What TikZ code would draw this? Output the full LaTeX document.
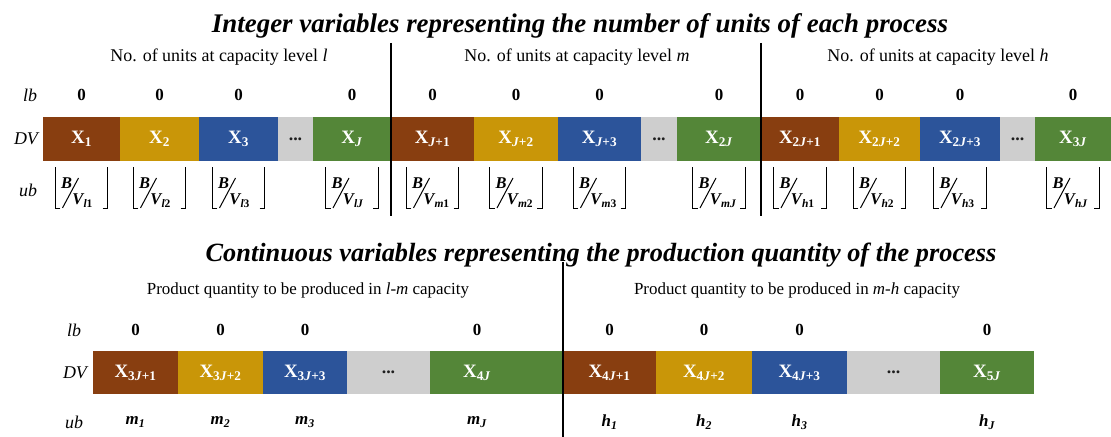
\documentclass[tikz,border=0pt]{standalone}
\usepackage{fontspec}
\setmainfont{Liberation Serif}
\usepackage{graphicx}
\definecolor{cbrown}{RGB}{136,62,16}
\definecolor{cgold}{RGB}{201,150,8}
\definecolor{cblue}{RGB}{44,84,154}
\definecolor{cgray}{RGB}{206,206,206}
\definecolor{cgreen}{RGB}{84,134,56}
\definecolor{cdots}{RGB}{30,30,30}
\newcommand\cellbox[7]{%
  \pgfmathsetmacro\cw{#3-#2}\pgfmathsetmacro\ch{#5-#4}%
  \pgfmathsetmacro\cx{(#2+#3)/2}\pgfmathsetmacro\cy{(#4+#5)/2}%
  \node[cellst,fill=#6,minimum width=\cw bp,minimum height=\ch bp] (#1) at (\cx,\cy) {#7};}
\newcommand\xlab[1]{\textbf{X}\textsubscript{\textbf{#1}}}
\newcommand\bvfrac[1]{\makebox[38bp][l]{\kern-1.5bp\raisebox{-1bp}{\textbf{\textit{B}}}\kern0.5bp\raisebox{-17bp}{\textbf{\textit{V}}\kern-1bp\textsubscript{\textbf{#1}}}}}
\newcommand\floorbr[1]{%
  \draw[brk] ([xshift=5bp]#1.south west) -- (#1.south west) -- (#1.north west);
  \draw[brk] ([xshift=-5bp]#1.south east) -- (#1.south east) -- (#1.north east);
  \draw[slsh] ([xshift=-19bp,yshift=-20bp]#1.center) -- ([xshift=-3bp,yshift=10bp]#1.center);}
\begin{document}
\begin{tikzpicture}[x=1bp,y=-1bp,
  cellst/.style={draw=none,inner sep=0pt,outer sep=0pt,text=white,font=\fontsize{19}{20}\selectfont},
  dotst/.style={text=cdots,font=\fontsize{18}{18}\selectfont\bfseries},
  zst/.style={font=\fontsize{17}{18}\selectfont\bfseries},
  rowlab/.style={font=\fontsize{18}{20}\selectfont\itshape},
  subt/.style={font=\fontsize{18}{20}\selectfont},
  subb/.style={font=\fontsize{17}{20}\selectfont},
  ttl/.style={font=\fontsize{27}{30}\selectfont\bfseries\itshape},
  ttlb/.style={font=\fontsize{26.4}{30}\selectfont\bfseries\itshape},
  ubst/.style={inner sep=0pt,minimum width=52bp,minimum height=41bp,text height=20bp,text depth=21bp,font=\fontsize{16.5}{18}\selectfont},
  ubb/.style={font=\fontsize{17}{18}\selectfont\bfseries\itshape},
  brk/.style={line width=0.8bp},
  slsh/.style={line width=1bp},
  sep/.style={line width=2.6bp}]
\useasboundingbox (0,0) rectangle (1111,437);
% ---------------- top section
\node[ttl] (title1) at (580,26) {Integer variables representing the number of units of each process};
\node[subt] (sub1) at (219,57) {No. of units at capacity level \textit{l}};
\node[subt] (sub2) at (577,57) {No. of units at capacity level \textit{m}};
\node[subt] (sub3) at (938,57) {No. of units at capacity level \textit{h}};
\node[rowlab] (lb1) at (30,95) {lb};
\node[rowlab] (dv1) at (26,139) {DV};
\node[rowlab] (ub1) at (28,190) {ub};
\cellbox{t1}{43}{120}{117}{161}{cbrown}{\xlab{1}}
\cellbox{t2}{120}{199}{117}{161}{cgold}{\xlab{2}}
\cellbox{t3}{199}{278}{117}{161}{cblue}{\xlab{3}}
\cellbox{t4}{278}{313}{117}{161}{cgray}{}
\cellbox{t5}{313}{391}{117}{161}{cgreen}{\xlab{\textit{J}}}
\cellbox{t6}{391}{474}{117}{161}{cbrown}{\xlab{\textit{J}+1}}
\cellbox{t7}{474}{558}{117}{161}{cgold}{\xlab{\textit{J}+2}}
\cellbox{t8}{558}{641}{117}{161}{cblue}{\xlab{\textit{J}+3}}
\cellbox{t9}{641}{677}{117}{161}{cgray}{}
\cellbox{t10}{677}{761}{117}{161}{cgreen}{\xlab{2\textit{J}}}
\cellbox{t11}{761}{839}{117}{161}{cbrown}{\xlab{2\textit{J}+1}}
\cellbox{t12}{839}{920}{117}{161}{cgold}{\xlab{2\textit{J}+2}}
\cellbox{t13}{920}{1000}{117}{161}{cblue}{\xlab{2\textit{J}+3}}
\cellbox{t14}{1000}{1035}{117}{161}{cgray}{}
\cellbox{t15}{1035}{1111}{117}{161}{cgreen}{\xlab{3\textit{J}}}
\foreach \n in {t4,t9,t14} \node[dotst] (d-\n) at (\n) {...};
\foreach \n in {t1,t2,t3,t5,t6,t7,t8,t10,t11,t12,t13,t15}
  \node[zst] (z-\n) at (\n |- 0,95) {0};
\foreach \n/\s in {t1/\textit{l}1,t2/\textit{l}2,t3/\textit{l}3,t5/\textit{lJ},
                   t6/\textit{m}1,t7/\textit{m}2,t8/\textit{m}3,t10/\textit{mJ},
                   t11/\textit{h}1,t12/\textit{h}2,t13/\textit{h}3,t15/\textit{hJ}}{
  \node[ubst] (u-\n) at (\n |- 0,188) {\bvfrac{\s}};
  \floorbr{u-\n}
}
\coordinate (s1t) at (391,43); \coordinate (s1b) at (391,216);
\coordinate (s2t) at (761,43); \coordinate (s2b) at (761,216);
\draw[sep] (s1t) -- (s1b);
\draw[sep] (s2t) -- (s2b);
% ---------------- bottom section
\node[ttlb] (title2) at (601,255) {Continuous variables representing the production quantity of the process};
\node[subb] (sub4) at (308,290) {Product quantity to be produced in \textit{l-m} capacity};
\node[subb] (sub5) at (797,290) {Product quantity to be produced in \textit{m-h} capacity};
\node[rowlab] (lb2) at (74,330) {lb};
\node[rowlab] (dv2) at (75,373) {DV};
\node[rowlab] (ub2) at (74,422) {ub};
\cellbox{b1}{93}{178}{351}{394}{cbrown}{\xlab{3\textit{J}+1}}
\cellbox{b2}{178}{263}{351}{394}{cgold}{\xlab{3\textit{J}+2}}
\cellbox{b3}{263}{347}{351}{394}{cblue}{\xlab{3\textit{J}+3}}
\cellbox{b4}{347}{430}{351}{394}{cgray}{}
\cellbox{b5}{430}{563}{351}{394}{cgreen}{}
\cellbox{b6}{563}{656}{351}{394}{cbrown}{\xlab{4\textit{J}+1}}
\cellbox{b7}{656}{752}{351}{394}{cgold}{\xlab{4\textit{J}+2}}
\cellbox{b8}{752}{847}{351}{394}{cblue}{\xlab{4\textit{J}+3}}
\cellbox{b9}{847}{940}{351}{394}{cgray}{}
\cellbox{b10}{940}{1034}{351}{394}{cgreen}{\xlab{5\textit{J}}}
\coordinate (c5) at (477,372.5);
\node[cellst] (x4j) at (c5) {\xlab{4\textit{J}}};
\foreach \n in {b4,b9} \node[dotst] (d-\n) at (\n) {...};
\foreach \n/\s in {b1/\textit{m}\textsubscript{1},b2/\textit{m}\textsubscript{2},b3/\textit{m}\textsubscript{3},c5/\textit{m}\textsubscript{\textit{J}},
                   b6/\textit{h}\textsubscript{1},b7/\textit{h}\textsubscript{2},b8/\textit{h}\textsubscript{3},b10/\textit{h}\textsubscript{\textit{J}}}{
  \node[zst] (z-\n) at (\n |- 0,330) {0};
  \node[ubb] (u-\n) at (\n |- 0,422) {\s};
}
\coordinate (s3t) at (563,262); \coordinate (s3b) at (563,437);
\draw[sep] (s3t) -- (s3b);
\end{tikzpicture}
\end{document}
